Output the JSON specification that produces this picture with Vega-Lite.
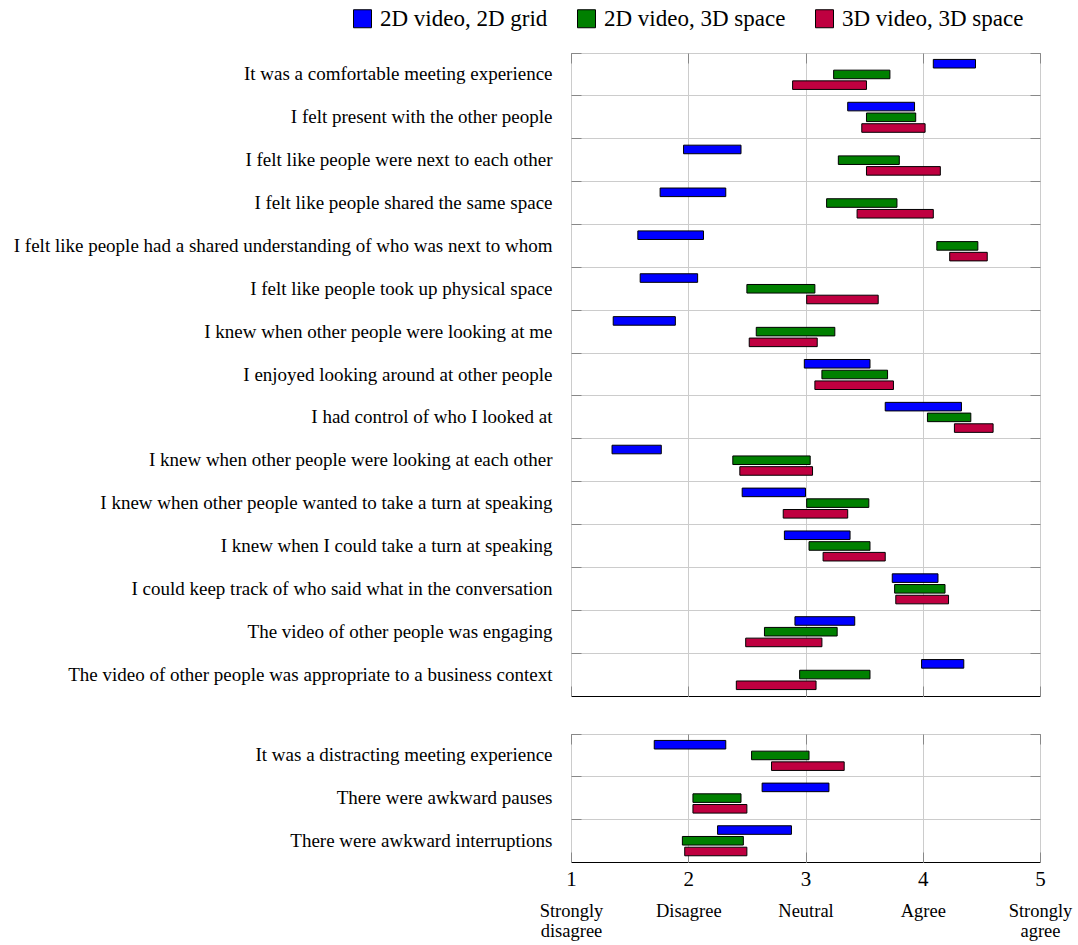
{
  "$schema": "https://vega.github.io/schema/vega-lite/v6.json",
  "padding": {"left": 12, "top": 7, "right": 3, "bottom": 3},
  "config": {
    "font": "Liberation Serif",
    "view": {"stroke": "black", "strokeWidth": 1},
    "axis": {"labelColor": "black", "labelFont": "Liberation Serif"}
  },
  "datasets": {
    "top": [
      {"q": "It was a comfortable meeting experience", "c": "2D video, 2D grid", "lo": 4.09, "hi": 4.45},
      {"q": "It was a comfortable meeting experience", "c": "2D video, 3D space", "lo": 3.24, "hi": 3.72},
      {"q": "It was a comfortable meeting experience", "c": "3D video, 3D space", "lo": 2.89, "hi": 3.52},
      {"q": "I felt present with the other people", "c": "2D video, 2D grid", "lo": 3.36, "hi": 3.93},
      {"q": "I felt present with the other people", "c": "2D video, 3D space", "lo": 3.52, "hi": 3.94},
      {"q": "I felt present with the other people", "c": "3D video, 3D space", "lo": 3.48, "hi": 4.02},
      {"q": "I felt like people were next to each other", "c": "2D video, 2D grid", "lo": 1.96, "hi": 2.45},
      {"q": "I felt like people were next to each other", "c": "2D video, 3D space", "lo": 3.28, "hi": 3.80},
      {"q": "I felt like people were next to each other", "c": "3D video, 3D space", "lo": 3.52, "hi": 4.15},
      {"q": "I felt like people shared the same space", "c": "2D video, 2D grid", "lo": 1.76, "hi": 2.32},
      {"q": "I felt like people shared the same space", "c": "2D video, 3D space", "lo": 3.18, "hi": 3.78},
      {"q": "I felt like people shared the same space", "c": "3D video, 3D space", "lo": 3.44, "hi": 4.09},
      {"q": "I felt like people had a shared understanding of who was next to whom", "c": "2D video, 2D grid", "lo": 1.57, "hi": 2.13},
      {"q": "I felt like people had a shared understanding of who was next to whom", "c": "2D video, 3D space", "lo": 4.12, "hi": 4.47},
      {"q": "I felt like people had a shared understanding of who was next to whom", "c": "3D video, 3D space", "lo": 4.23, "hi": 4.55},
      {"q": "I felt like people took up physical space", "c": "2D video, 2D grid", "lo": 1.59, "hi": 2.08},
      {"q": "I felt like people took up physical space", "c": "2D video, 3D space", "lo": 2.50, "hi": 3.08},
      {"q": "I felt like people took up physical space", "c": "3D video, 3D space", "lo": 3.01, "hi": 3.62},
      {"q": "I knew when other people were looking at me", "c": "2D video, 2D grid", "lo": 1.36, "hi": 1.89},
      {"q": "I knew when other people were looking at me", "c": "2D video, 3D space", "lo": 2.58, "hi": 3.25},
      {"q": "I knew when other people were looking at me", "c": "3D video, 3D space", "lo": 2.52, "hi": 3.10},
      {"q": "I enjoyed looking around at other people", "c": "2D video, 2D grid", "lo": 2.99, "hi": 3.55},
      {"q": "I enjoyed looking around at other people", "c": "2D video, 3D space", "lo": 3.14, "hi": 3.70},
      {"q": "I enjoyed looking around at other people", "c": "3D video, 3D space", "lo": 3.08, "hi": 3.75},
      {"q": "I had control of who I looked at", "c": "2D video, 2D grid", "lo": 3.68, "hi": 4.33},
      {"q": "I had control of who I looked at", "c": "2D video, 3D space", "lo": 4.04, "hi": 4.41},
      {"q": "I had control of who I looked at", "c": "3D video, 3D space", "lo": 4.27, "hi": 4.60},
      {"q": "I knew when other people were looking at each other", "c": "2D video, 2D grid", "lo": 1.35, "hi": 1.77},
      {"q": "I knew when other people were looking at each other", "c": "2D video, 3D space", "lo": 2.38, "hi": 3.04},
      {"q": "I knew when other people were looking at each other", "c": "3D video, 3D space", "lo": 2.44, "hi": 3.06},
      {"q": "I knew when other people wanted to take a turn at speaking", "c": "2D video, 2D grid", "lo": 2.46, "hi": 3.00},
      {"q": "I knew when other people wanted to take a turn at speaking", "c": "2D video, 3D space", "lo": 3.01, "hi": 3.54},
      {"q": "I knew when other people wanted to take a turn at speaking", "c": "3D video, 3D space", "lo": 2.81, "hi": 3.36},
      {"q": "I knew when I could take a turn at speaking", "c": "2D video, 2D grid", "lo": 2.82, "hi": 3.38},
      {"q": "I knew when I could take a turn at speaking", "c": "2D video, 3D space", "lo": 3.03, "hi": 3.55},
      {"q": "I knew when I could take a turn at speaking", "c": "3D video, 3D space", "lo": 3.15, "hi": 3.68},
      {"q": "I could keep track of who said what in the conversation", "c": "2D video, 2D grid", "lo": 3.74, "hi": 4.13},
      {"q": "I could keep track of who said what in the conversation", "c": "2D video, 3D space", "lo": 3.76, "hi": 4.19},
      {"q": "I could keep track of who said what in the conversation", "c": "3D video, 3D space", "lo": 3.77, "hi": 4.22},
      {"q": "The video of other people was engaging", "c": "2D video, 2D grid", "lo": 2.91, "hi": 3.42},
      {"q": "The video of other people was engaging", "c": "2D video, 3D space", "lo": 2.65, "hi": 3.27},
      {"q": "The video of other people was engaging", "c": "3D video, 3D space", "lo": 2.49, "hi": 3.14},
      {"q": "The video of other people was appropriate to a business context", "c": "2D video, 2D grid", "lo": 3.99, "hi": 4.35},
      {"q": "The video of other people was appropriate to a business context", "c": "2D video, 3D space", "lo": 2.95, "hi": 3.55},
      {"q": "The video of other people was appropriate to a business context", "c": "3D video, 3D space", "lo": 2.41, "hi": 3.09}
    ],
    "bottom": [
      {"q": "It was a distracting meeting experience", "c": "2D video, 2D grid", "lo": 1.71, "hi": 2.32},
      {"q": "It was a distracting meeting experience", "c": "2D video, 3D space", "lo": 2.54, "hi": 3.03},
      {"q": "It was a distracting meeting experience", "c": "3D video, 3D space", "lo": 2.71, "hi": 3.33},
      {"q": "There were awkward pauses", "c": "2D video, 2D grid", "lo": 2.63, "hi": 3.20},
      {"q": "There were awkward pauses", "c": "2D video, 3D space", "lo": 2.04, "hi": 2.45},
      {"q": "There were awkward pauses", "c": "3D video, 3D space", "lo": 2.04, "hi": 2.50},
      {"q": "There were awkward interruptions", "c": "2D video, 2D grid", "lo": 2.25, "hi": 2.88},
      {"q": "There were awkward interruptions", "c": "2D video, 3D space", "lo": 1.95, "hi": 2.47},
      {"q": "There were awkward interruptions", "c": "3D video, 3D space", "lo": 1.97, "hi": 2.50}
    ]
  },
  "vconcat": [
    {
      "data": {"name": "top"},
      "width": 469,
      "height": 643,
      "layer": [
        {
          "mark": {"type": "bar", "stroke": "black", "strokeWidth": 1},
          "encoding": {
            "y": {"field": "q", "type": "nominal", "sort": null,
              "scale": {"paddingInner": 0, "paddingOuter": 0},
              "axis": {"orient": "left", "title": null, "bandPosition": 0, "grid": true, "gridColor": "#cccccc",
                "tickSize": -10, "tickColor": "#888888", "domain": false, "labelFontSize": 19,
                "labelPadding": 29, "labelLimit": 0}},
            "yOffset": {"field": "c", "type": "nominal", "sort": ["2D video, 2D grid", "2D video, 3D space", "3D video, 3D space"],
              "scale": {"paddingInner": 0.2, "paddingOuter": 0.6}},
            "x": {"field": "lo", "type": "quantitative",
              "scale": {"domain": [1, 5], "nice": false, "zero": false},
              "axis": {"orient": "bottom", "title": null, "values": [1, 2, 3, 4, 5], "labels": false, "grid": true,
                "gridColor": "#cccccc", "tickSize": -10, "tickColor": "#888888", "domain": false}},
            "x2": {"field": "hi"},
            "color": {"field": "c", "type": "nominal", "title": null,
              "scale": {"domain": ["2D video, 2D grid", "2D video, 3D space", "3D video, 3D space"], "range": ["#0000ff", "#008000", "#bf0040"]},
              "legend": {"orient": "none", "legendX": -220, "legendY": -46, "direction": "horizontal",
                "symbolType": "square", "symbolSize": 324, "symbolStrokeColor": "black", "symbolStrokeWidth": 1,
                "symbolOpacity": 1, "labelFontSize": 23, "labelFont": "Liberation Serif", "labelColor": "black",
                "labelOffset": 6, "columnPadding": 27, "labelLimit": 0}}
          }
        },
        {
          "mark": {"type": "bar", "opacity": 0},
          "encoding": {
            "y": {"field": "q", "type": "nominal", "sort": null,
              "scale": {"paddingInner": 0, "paddingOuter": 0},
              "axis": {"orient": "right", "title": null, "bandPosition": 0, "grid": false, "labels": false,
                "tickSize": -10, "tickColor": "#888888", "domain": false}},
            "x": {"field": "lo", "type": "quantitative",
              "scale": {"domain": [1, 5], "nice": false, "zero": false},
              "axis": {"orient": "top", "title": null, "values": [1, 2, 3, 4, 5], "labels": false, "grid": false,
                "tickSize": -10, "tickColor": "#888888", "domain": false}},
            "x2": {"field": "hi"}
          }
        }
      ],
      "resolve": {"scale": {"x": "independent", "y": "independent"}}
    },
    {
      "data": {"name": "bottom"},
      "width": 469,
      "height": 128,
      "layer": [
        {
          "mark": {"type": "bar", "stroke": "black", "strokeWidth": 1},
          "encoding": {
            "y": {"field": "q", "type": "nominal", "sort": null,
              "scale": {"paddingInner": 0, "paddingOuter": 0},
              "axis": {"orient": "left", "title": null, "bandPosition": 0, "grid": true, "gridColor": "#cccccc",
                "tickSize": -10, "tickColor": "#888888", "domain": false, "labelFontSize": 19,
                "labelPadding": 29, "labelLimit": 0}},
            "yOffset": {"field": "c", "type": "nominal", "sort": ["2D video, 2D grid", "2D video, 3D space", "3D video, 3D space"],
              "scale": {"paddingInner": 0.2, "paddingOuter": 0.6}},
            "x": {"field": "lo", "type": "quantitative",
              "scale": {"domain": [1, 5], "nice": false, "zero": false},
              "axis": {"orient": "bottom", "title": null, "values": [1, 2, 3, 4, 5], "format": "d", "grid": true,
                "gridColor": "#cccccc", "tickSize": -10, "tickColor": "#888888", "domain": false,
                "labelFontSize": 21, "labelPadding": 16, "labelFlush": false, "labelOverlap": false}},
            "x2": {"field": "hi"},
            "color": {"field": "c", "type": "nominal", "title": null,
              "scale": {"domain": ["2D video, 2D grid", "2D video, 3D space", "3D video, 3D space"], "range": ["#0000ff", "#008000", "#bf0040"]},
              "legend": null}
          }
        },
        {
          "mark": {"type": "bar", "opacity": 0},
          "encoding": {
            "y": {"field": "q", "type": "nominal", "sort": null,
              "scale": {"paddingInner": 0, "paddingOuter": 0},
              "axis": {"orient": "right", "title": null, "bandPosition": 0, "grid": false, "labels": false,
                "tickSize": -10, "tickColor": "#888888", "domain": false}},
            "x": {"field": "lo", "type": "quantitative",
              "scale": {"domain": [1, 5], "nice": false, "zero": false},
              "axis": {"orient": "top", "title": null, "values": [1, 2, 3, 4, 5], "labels": false, "grid": false,
                "tickSize": -10, "tickColor": "#888888", "domain": false}},
            "x2": {"field": "hi"}
          }
        },
        {
          "mark": {"type": "bar", "opacity": 0},
          "encoding": {
            "y": {"field": "q", "type": "nominal", "sort": null,
              "scale": {"paddingInner": 0, "paddingOuter": 0},
              "axis": null},
            "x": {"field": "lo", "type": "quantitative",
              "scale": {"domain": [1, 5], "nice": false, "zero": false},
              "axis": {"orient": "bottom", "title": null, "values": [1, 2, 3, 4, 5], "grid": false, "ticks": false,
                "domain": false, "labelFontSize": 18.5, "labelPadding": 39, "labelBaseline": "top", "labelLineHeight": 20,
                "labelFlush": false, "labelOverlap": false,
                "labelExpr": "datum.value == 1 ? ['Strongly', 'disagree'] : datum.value == 2 ? 'Disagree' : datum.value == 3 ? 'Neutral' : datum.value == 4 ? 'Agree' : ['Strongly', 'agree']"}},
            "x2": {"field": "hi"}
          }
        }
      ],
      "resolve": {"scale": {"x": "independent", "y": "independent"}}
    }
  ],
  "spacing": 36
}
